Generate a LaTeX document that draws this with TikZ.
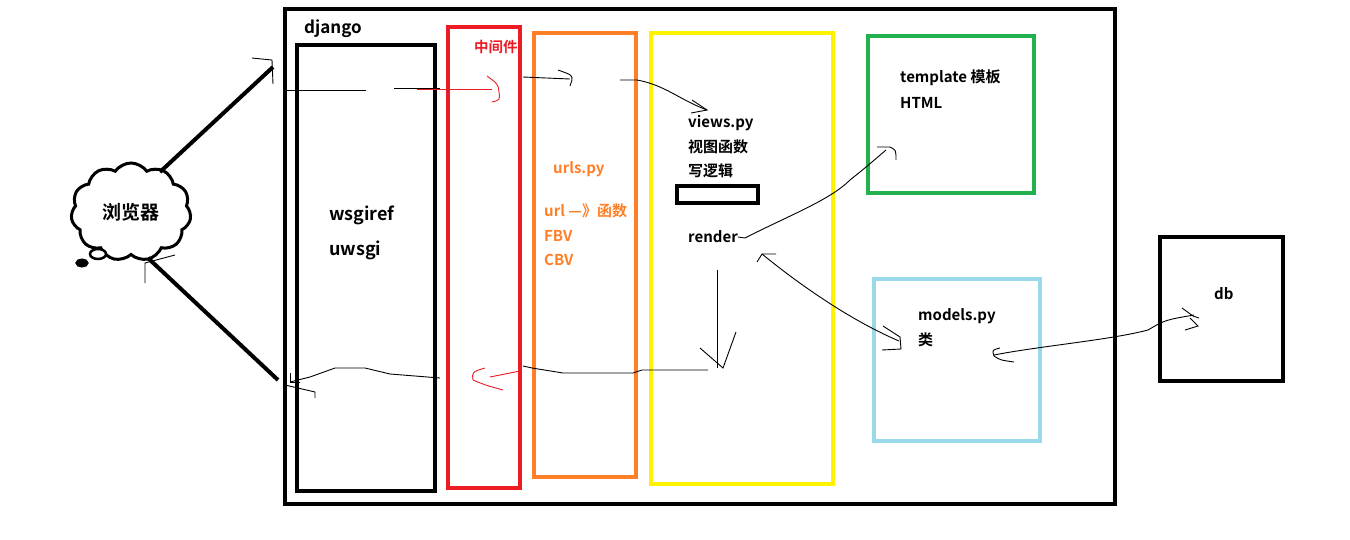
\documentclass[tikz,border=0pt]{standalone}
\usepackage{fontspec}
\setmainfont{Noto Sans CJK SC Bold}
\usetikzlibrary{shapes.symbols,arrows.meta}
\definecolor{cred}{HTML}{ED1C24}
\definecolor{corange}{HTML}{FF7F27}
\definecolor{cyellow}{HTML}{FFF200}
\definecolor{cgreen}{HTML}{22B14C}
\definecolor{cblue}{HTML}{99D9EA}
\tikzset{
  frame/.style={draw,line width=4pt},
  lbl/.style={anchor=west,inner sep=0pt,font=\fontsize{15}{18}\selectfont},
  hand/.style={draw,line width=0.9pt},
  thick line/.style={draw,line width=4pt},
}
\begin{document}
\begin{tikzpicture}[x=1pt,y=-1pt]
\useasboundingbox[fill=white] (0,0) rectangle (1350,539);
% boxes
\draw[frame] (285,9) rectangle (1115,504);
\node[lbl,font=\fontsize{17}{20}\selectfont] (dj) at (304,29) {django};
\draw[frame] (297,45) rectangle (435,491);
\draw[frame,cred] (448,27) rectangle (520,488);
\draw[frame,corange] (534,33) rectangle (636,477);
\draw[frame,cyellow] (651,33) rectangle (833,484);
\draw[frame,cgreen] (868,36) rectangle (1034,193);
\draw[frame,cblue] (874,279) rectangle (1040,441);
\draw[frame] (1160,237) rectangle (1283,381);
\draw[frame] (677,186) rectangle (758,203);
% texts
\node[lbl,font=\fontsize{18}{22}\selectfont] (ws) at (329,215) {wsgiref};
\node[lbl,font=\fontsize{18}{22}\selectfont] (uw) at (329,250) {uwsgi};
\node[lbl,text=cred,font=\fontsize{14.5}{16}\selectfont] (mw) at (474,47) {中间件};
\node[lbl,text=corange] (urls) at (553,169) {urls.py};
\node[lbl,text=corange] (u1) at (544,211) {url —》函数};
\node[lbl,text=corange] (u2) at (544,236) {FBV};
\node[lbl,text=corange] (u3) at (544,260) {CBV};
\node[lbl] (views) at (688,123) {views.py};
\node[lbl] (v2) at (688,147) {视图函数};
\node[lbl] (v3) at (688,171) {写逻辑};
\node[lbl] (render) at (688,237) {render};
\node[lbl] (tpl) at (900,78) {template 模板};
\node[lbl] (html) at (900,103) {HTML};
\node[lbl] (models) at (918,316) {models.py};
\node[lbl] (cls) at (918,340) {类};
\node[lbl] (db) at (1214,294) {db};
% cloud
\node[cloud,draw,fill=white,line width=3pt,cloud puffs=11,cloud puff arc=110,aspect=1.25,
  minimum width=120pt,minimum height=98pt,inner sep=0pt,
  font=\fontsize{19}{22}\selectfont] (br) at (131,212) {浏览器};
\draw[line width=2.5pt,fill=white] (98,254) ellipse (8pt and 5pt);
\draw[line width=3pt,fill=black] (82,263) ellipse (5pt and 3pt);
% thick lines
\coordinate (tin) at (273,67);
\coordinate (tout) at (278,380);
\draw[thick line] (160,172) -- (tin);
\draw[thick line] (148,258) -- (tout);
\draw[hand] (252,58) -- (272,60) -- (273,84);
\draw[hand] (145,283) -- (145,263) -- (175,255);
% top request path
\draw[hand] (285,90) -- (366,90);
\draw[hand] (394,88) -- (440,88);
\draw[hand,cred] (417,89) -- (492,89);
\draw[hand,cred] (487,76) .. controls (498,84) .. (499,92) .. controls (500,100) .. (492,102);
\draw[hand] (523,77) -- (570,79);
\draw[hand] (558,70) .. controls (572,75) .. (572,80) -- (570,86);
\draw[hand] (620,80) -- (637,80) .. controls (665,85) and (680,100) .. (707,110);
\draw[hand] (692,100) -- (707,110) -- (691,113);
% render -> template
\coordinate (tplin) at (886,150);
\draw[hand] (render.east) -- (745,238) .. controls (790,215) and (830,200) .. (850,180) .. controls (865,168) .. (tplin);
\draw[hand] (877,147) -- (890,147) .. controls (896,150) .. (896,160);
% render <-> models
\draw[hand] (762,254) .. controls (800,285) and (850,320) .. (899,341);
\draw[hand] (776,254) -- (762,254) -- (757,262);
\draw[hand] (883,326) -- (900,337) -- (901,349) -- (882,350);
% models <-> db
\draw[hand] (994,355) .. controls (1040,346) and (1110,340) .. (1148,330) .. controls (1165,320) .. (1194,315);
\draw[hand] (1000,348) .. controls (992,350) .. (994,356) .. controls (1000,360) .. (1014,362);
\draw[hand] (1182,308) -- (1193,316) -- (1199,318);
\draw[hand] (1190,318) -- (1198,326) -- (1185,330);
% down arrow in views
\draw[hand] (717,270) -- (717,368);
\draw[hand] (700,348) -- (723,368) .. controls (730,350) .. (736,332);
% return path
\draw[hand] (708,370) -- (642,370) -- (633,373) -- (563,373) -- (532,368) -- (523,366);
\draw[hand,cred] (520,371) -- (490,377);
\draw[hand,cred] (485,368) .. controls (472,372) .. (473,380) .. controls (485,385) .. (503,390);
\draw[hand] (440,378) -- (390,374) -- (365,368) -- (335,368) -- (310,377) -- (290,382);
\draw[hand] (290,373) -- (290,382) -- (300,382);
\draw[hand] (285,385) -- (315,392) -- (315,398);
\end{tikzpicture}
\end{document}
